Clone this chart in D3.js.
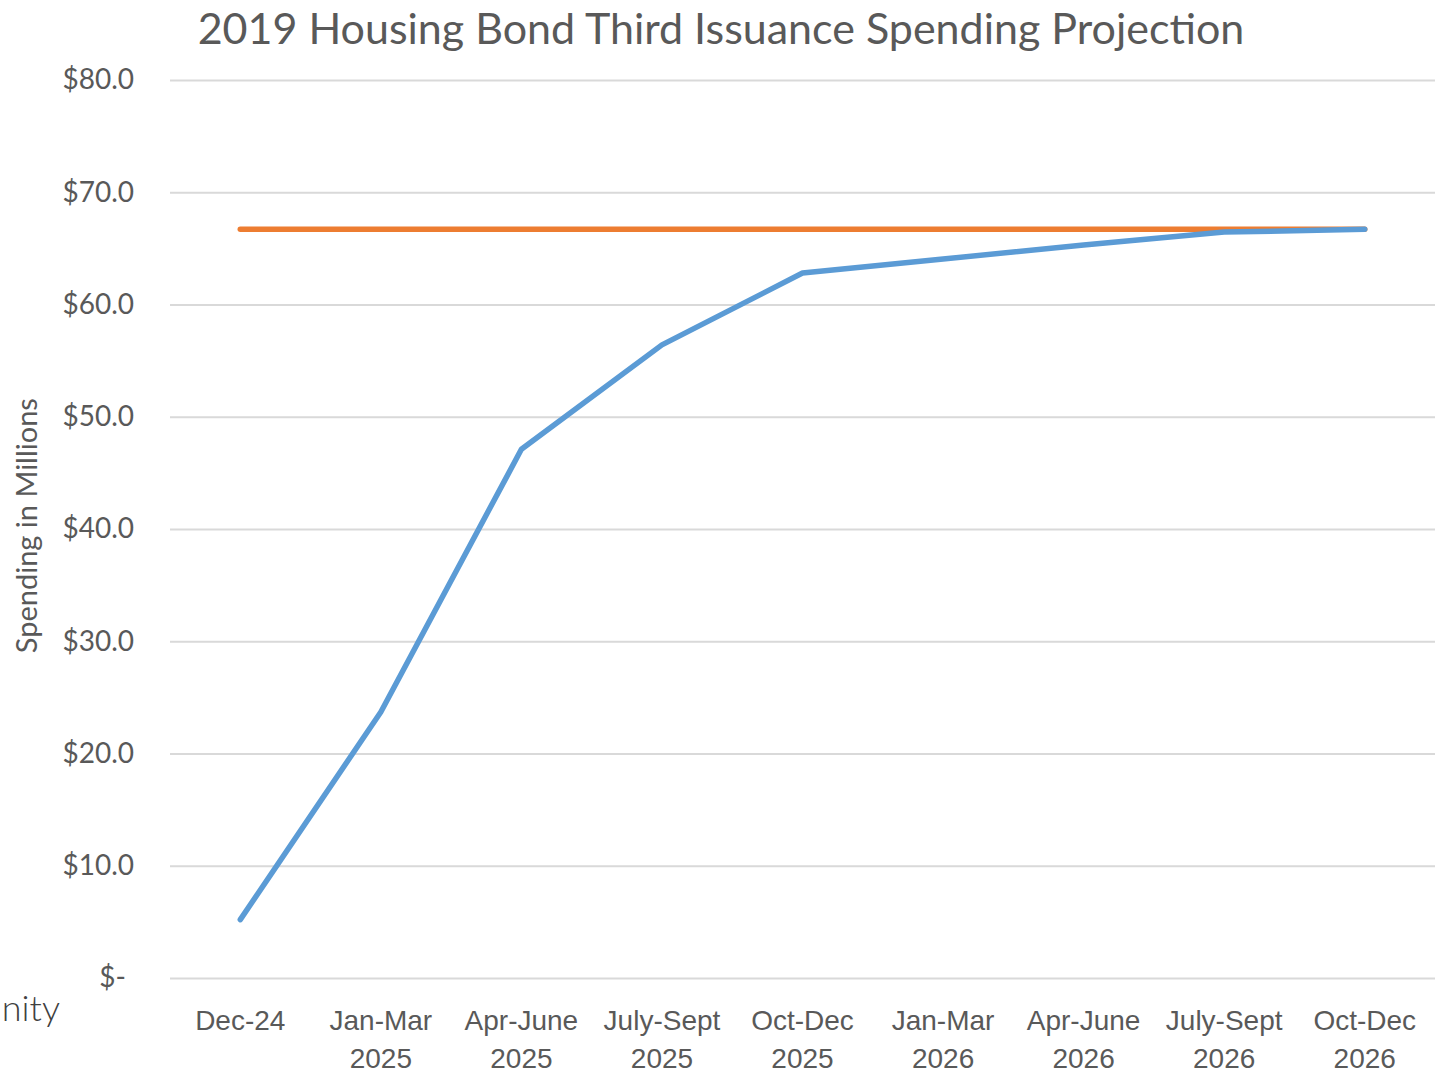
<!DOCTYPE html>
<html>
<head>
<meta charset="utf-8">
<script src="https://cdn.jsdelivr.net/npm/d3@7"></script>
<style>
  body { margin: 0; background: #fff; }
  svg { display: block; font-family: Lato, "Open Sans", sans-serif; }
  .grid line { stroke: #d9d9d9; stroke-width: 2; }
  .grid .domain { display: none; }
  .tick text { fill: #595959; }
</style>
</head>
<body>
<svg id="chart"></svg>
<script>
// quarters on the x axis (two lines each)
const periods = ['Dec-24', 'Jan-Mar 2025', 'Apr-June 2025', 'July-Sept 2025', 'Oct-Dec 2025',
                 'Jan-Mar 2026', 'Apr-June 2026', 'July-Sept 2026', 'Oct-Dec 2026'];
const spending = [5.2, 23.7, 47.1, 56.4, 62.8, 64.05, 65.3, 66.45, 66.7];
const target = [66.7, 66.7, 66.7, 66.7, 66.7, 66.7, 66.7, 66.7, 66.7];
const yTicks = [0, 10, 20, 30, 40, 50, 60, 70, 80];

const svgWidth = 1435;
const svgHeight = 1073;
const margin = { top: 80, right: 0, bottom: 95, left: 170 };

const svg = d3.select('#chart')
    .attr('width', svgWidth)
    .attr('height', svgHeight);

const xScale = d3.scaleBand()
    .domain(periods)
    .range([margin.left, svgWidth - margin.right]);

const yScale = d3.scaleLinear()
    .domain([0, 80])
    .range([svgHeight - margin.bottom, margin.top]);

// gridlines
svg.append('g')
    .attr('class', 'grid')
    .attr('transform', `translate(${margin.left}, 0)`)
    .call(d3.axisLeft(yScale).tickValues(yTicks)
        .tickSize(-(svgWidth - margin.left - margin.right)).tickFormat(''));

// y labels
const yAxis = svg.append('g')
    .attr('transform', `translate(134, 0)`)
    .call(d3.axisLeft(yScale).tickValues(yTicks).tickSize(0)
        .tickFormat(d => d === 0 ? '$-' : '$' + d.toFixed(1)));
yAxis.select('.domain').remove();
yAxis.selectAll('text')
    .attr('font-size', 28)
    .attr('x', 0)
    .attr('font-family', 'Lato, sans-serif');
yAxis.selectAll('.tick').filter(d => d === 0).select('text').attr('x', -8);

// x labels
const xAxis = svg.append('g')
    .attr('transform', `translate(0, ${svgHeight - margin.bottom})`)
    .call(d3.axisBottom(xScale).tickSize(0).tickFormat(''));
xAxis.select('.domain').remove();
xAxis.selectAll('.tick').each(function(d) {
    const parts = d === 'Dec-24' ? [d] : [d.slice(0, d.lastIndexOf(' ')), d.slice(d.lastIndexOf(' ') + 1)];
    const t = d3.select(this).append('text')
        .attr('fill', '#595959')
        .attr('font-size', 28)
        .attr('text-anchor', 'middle');
    parts.forEach((p, i) => {
        t.append('tspan').attr('x', 0).attr('y', 52 + i * 38).text(p);
    });
});

const xPos = d => xScale(d) + xScale.bandwidth() / 2;

const line = d3.line()
    .x((d, i) => xPos(periods[i]))
    .y(d => yScale(d));

svg.append('path')
    .datum(target)
    .attr('fill', 'none')
    .attr('stroke', '#ed7d31')
    .attr('stroke-width', 5.5)
    .attr('stroke-linecap', 'round')
    .attr('d', line);

svg.append('path')
    .datum(spending)
    .attr('fill', 'none')
    .attr('stroke', '#5b9bd5')
    .attr('stroke-width', 5.5)
    .attr('stroke-linecap', 'round')
    .attr('stroke-linejoin', 'round')
    .attr('d', line);

// title
svg.append('text')
    .attr('x', 721)
    .attr('y', 44)
    .attr('text-anchor', 'middle')
    .attr('font-size', 43)
    .attr('fill', '#595959')
    .text('2019 Housing Bond Third Issuance Spending Projection');

// axis title
svg.append('text')
    .attr('transform', `translate(37, ${yScale(40.3)}) rotate(-90)`)
    .attr('text-anchor', 'middle')
    .attr('font-size', 29)
    .attr('fill', '#595959')
    .text('Spending in Millions');

// clipped leftover text at bottom-left
svg.append('text')
    .attr('x', 60)
    .attr('y', 1021)
    .attr('text-anchor', 'end')
    .attr('font-size', 36)
    .attr('font-weight', 300)
    .attr('fill', '#404040')
    .text('nity');
</script>
</body>
</html>
